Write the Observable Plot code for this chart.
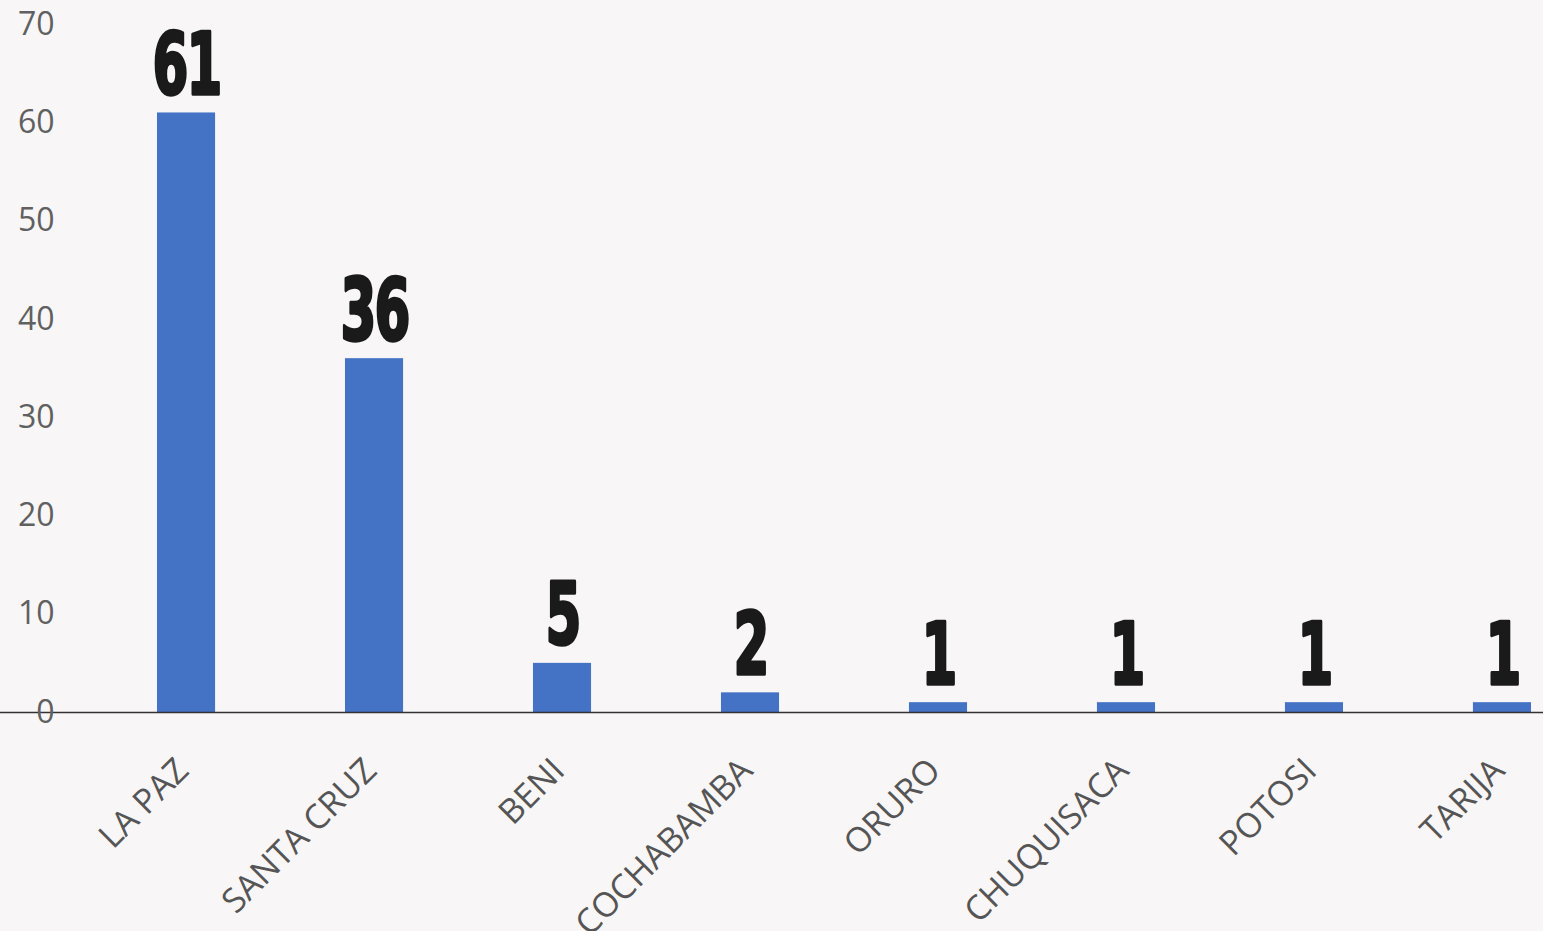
<!DOCTYPE html>
<html>
<head>
<meta charset="utf-8">
<script src="https://cdn.jsdelivr.net/npm/d3@7"></script>
<script src="https://cdn.jsdelivr.net/npm/@observablehq/plot@0.6"></script>
<style>
  html, body { margin: 0; padding: 0; background: #f9f6f8; }
  #chart svg { display: block; }
</style>
</head>
<body>
<div id="chart"></div>
<script>
const departamentos = ["LA PAZ", "SANTA CRUZ", "BENI", "COCHABAMBA", "ORURO", "CHUQUISACA", "POTOSI", "TARIJA"];
const casos = [61, 36, 5, 2, 1, 1, 1, 1];
const yTicks = [0, 10, 20, 30, 40, 50, 60, 70];

const data = departamentos.map((d, i) => ({dep: d, n: casos[i]}));

const chart = Plot.plot({
  width: 1543,
  height: 931,
  marginTop: 24,
  marginBottom: 219,
  marginLeft: 0,
  marginRight: 0,
  style: {background: "transparent", overflow: "visible"},
  x: {domain: departamentos, range: [92, 1596], paddingInner: 0.691, paddingOuter: 0.3457, round: false, axis: null},
  y: {domain: [0, 70], axis: null},
  marks: [
    Plot.barY(data, {x: "dep", y: "n", fill: "#4472c4"}),
    Plot.ruleY([0], {stroke: "#333", strokeWidth: 1.3}),
    Plot.text(yTicks, {
      y: d => d, text: d => String(d), frameAnchor: "left", dx: 54,
      textAnchor: "end", fontSize: 32, fill: "#606060", fontFamily: "Open Sans"
    }),
    Plot.text(data, {
      x: "dep", y: 0, text: "dep", dx: 4, dy: 60, rotate: -45,
      textAnchor: "end", lineAnchor: "bottom", fontSize: 34, fill: "#555",
      fontFamily: "Open Sans"
    }),
    Plot.text(data, {
      x: "dep", y: "n", text: d => String(d.n), dy: -19, lineAnchor: "bottom",
      fontSize: 86, fontWeight: "bold", fill: "#1a1a1a", stroke: "#1a1a1a", strokeWidth: 3.5,
      fontFamily: "DejaVu Sans"
    })
  ]
});

document.getElementById("chart").appendChild(chart);

// condense the big value labels horizontally
chart.querySelectorAll("g").forEach(g => {
  if (g.getAttribute("font-size") !== "86") return;
  g.querySelectorAll("text").forEach(t => {
    t.style.letterSpacing = "-3px";
    const tr = t.getAttribute("transform");
    if (tr) {
      t.setAttribute("transform", tr + " scale(0.6,1)");
    } else {
      const x = +t.getAttribute("x") || 0, y = +t.getAttribute("y") || 0;
      t.setAttribute("transform", `translate(${x},${y}) scale(0.6,1) translate(${-x},${-y})`);
    }
  });
});
</script>
</body>
</html>
